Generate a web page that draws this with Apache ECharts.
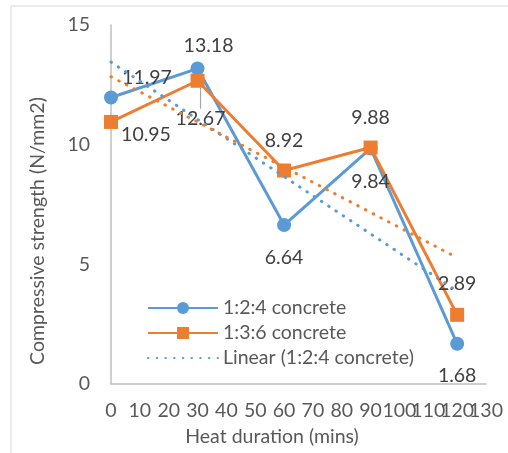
<!DOCTYPE html>
<html><head><meta charset="utf-8">
<script src="https://cdn.jsdelivr.net/npm/echarts@6/dist/echarts.min.js"></script>
<style>html,body{margin:0;padding:0;background:#fff}#c{width:508px;height:453px}</style>
</head><body><div id="c"></div>
<script>
// ---- data ----
var heatDuration = [0, 30, 60, 90, 120];
var mix124 = [11.97, 13.18, 6.64, 9.84, 1.68];
var mix136 = [10.95, 12.67, 8.92, 9.88, 2.89];
// trendline endpoints (x, y)
var trendX = [0, 120];
var trend124 = [13.45, 3.88];
var trend136 = [12.84, 5.28];
var seriesNames = ['1:2:4 concrete', '1:3:6 concrete', 'Linear (1:2:4 concrete)', 'Linear (1:3:6 concrete)'];

// ---- styles ----
var BLUE = '#5B9BD5', ORANGE = '#ED7D31';
var FONT = 'Lato';
var FS = 19.5;
var lblOffsets = {
  2: [[36,-20],[11,-23],[0,33],[0,33],[0,32]],
  3: [[35,13],[3,38],[0,-30],[0,-30],[0,-31]]
};

function pts(xs, ys) {
  return xs.map(function (x, i) { return [x, ys[i]]; });
}

var labelBase = { show: true, position: 'inside', color: '#404040', fontFamily: FONT, fontSize: FS,
  formatter: function (p) { return p.value[1].toFixed(2); } };

var dotted = [0.5, 8.2];
var xLabel = { color: '#595959', fontFamily: FONT, fontSize: FS, margin: 17 };

var chart = echarts.init(document.getElementById('c'));
var orangeData = pts(heatDuration, mix136).map(function (v, i) {
  return i === 1 ? { value: v, labelLine: { show: true } } : { value: v };
});
chart.setOption({
  animation: false,
  grid: { left: 111, right: 22, top: 25, bottom: 69 },
  graphic: [
    { type: 'rect', shape: { x: 11, y: 6, width: 700, height: 700 }, style: { fill: 'none', stroke: '#D9D9D9', lineWidth: 1 }, silent: true },
    { type: 'text', x: 38, y: 231, rotation: Math.PI / 2, style: { text: 'Compressive strength (N/mm2)', fill: '#595959', font: FS + 'px ' + FONT, textAlign: 'center', textVerticalAlign: 'middle' } },
    { type: 'text', x: 272, y: 437, style: { text: 'Heat duration (mins)', fill: '#595959', font: FS + 'px ' + FONT, textAlign: 'center', textVerticalAlign: 'middle' } }
  ],
  legend: {
    left: 142, top: 293, orient: 'vertical', itemGap: 5, itemWidth: 70, itemHeight: 15,
    data: seriesNames.slice(0, 3),
    textStyle: { color: '#595959', fontFamily: FONT, fontSize: FS }
  },
  xAxis: [{
    type: 'value', position: 'bottom', min: 0, max: 130, interval: 10,
    axisLine: { show: true, lineStyle: { color: '#BFBFBF', width: 1.5 } },
    axisTick: { show: false }, splitLine: { show: false },
    axisLabel: Object.assign({ showMinLabel: true, showMaxLabel: false }, xLabel)
  }, {
    type: 'value', position: 'bottom', offset: 0, min: 0, max: 130, interval: 130,
    axisLine: { show: false }, axisTick: { show: false }, splitLine: { show: false },
    axisLabel: Object.assign({ showMinLabel: false, showMaxLabel: true }, xLabel)
  }],
  yAxis: {
    type: 'value', min: 0, max: 15, interval: 5,
    axisLine: { show: true, lineStyle: { color: '#BFBFBF', width: 1.5 } },
    axisTick: { show: false }, splitLine: { show: false },
    axisLabel: { color: '#595959', fontFamily: FONT, fontSize: FS, margin: 21,
      showMinLabel: true, showMaxLabel: true }
  },
  series: [
    { name: seriesNames[2], type: 'line', data: pts(trendX, trend124), symbol: 'circle', showSymbol: false, z: 3,
      lineStyle: { color: BLUE, width: 3, type: dotted, cap: 'round' }, itemStyle: { color: 'rgba(0,0,0,0)' } },
    { name: seriesNames[3], type: 'line', data: pts(trendX, trend136), symbol: 'circle', showSymbol: false, z: 3,
      lineStyle: { color: ORANGE, width: 3, type: dotted, cap: 'round' }, itemStyle: { color: 'rgba(0,0,0,0)' } },
    { name: seriesNames[0], type: 'line', data: pts(heatDuration, mix124), symbol: 'circle', symbolSize: 14, z: 2,
      lineStyle: { color: BLUE, width: 3 }, itemStyle: { color: BLUE }, label: labelBase },
    { name: seriesNames[1], type: 'line', data: orangeData, symbol: 'rect', symbolSize: 14, z: 2,
      lineStyle: { color: ORANGE, width: 3 }, itemStyle: { color: ORANGE }, label: labelBase,
      labelLine: { show: false, lineStyle: { color: '#A6A6A6', width: 1.2 } } }
  ],
  labelLayout: function (p) {
    var o = lblOffsets[p.seriesIndex];
    if (!o) return {};
    return { dx: o[p.dataIndex][0], dy: o[p.dataIndex][1] };
  }
});
</script></body></html>
